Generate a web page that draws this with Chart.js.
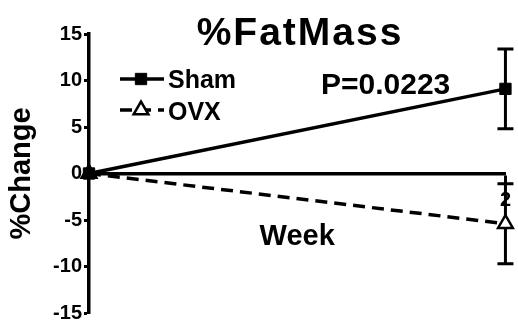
<!DOCTYPE html>
<html>
<head>
<meta charset="utf-8">
<script src="https://cdn.jsdelivr.net/npm/chart.js@4/dist/chart.umd.min.js"></script>
<style>
  html, body { margin: 0; padding: 0; background: #fff; }
  canvas { display: block; }
</style>
</head>
<body>
<canvas id="c" width="518" height="324"></canvas>
<script>
// Body fat mass, % change from baseline (mean ± SEM)
const weeks = [0, 2];
const shamMean = [0, 9.1];
const shamSem = [0, 4.3];
const ovxMean = [0, -5.4];
const ovxSem = [0, 4.3];
const yTickValues = [-15, -10, -5, 0, 5, 10, 15];
const xTickValues = [2];
const seriesNames = ['Sham', 'OVX'];
const chartTitle = '%FatMass';
const yTitle = '%Change';
const xTitle = 'Week';
const pValueText = 'P=0.0223';

const FONT = '"Liberation Sans", Arial, Helvetica, sans-serif';
const INK = '#000';

function toPoints(xs, ys) {
  return xs.map((x, i) => ({ x: x, y: ys[i] }));
}

// Vertical error bars with caps, drawn under the markers
const errorBars = {
  id: 'errorBars',
  beforeDatasetsDraw(chart) {
    const { ctx, scales: { x, y } } = chart;
    const sets = [
      { mean: shamMean, sem: shamSem },
      { mean: ovxMean, sem: ovxSem }
    ];
    ctx.save();
    ctx.strokeStyle = INK;
    ctx.lineWidth = 3;
    ctx.setLineDash([]);
    const cap = 8;
    sets.forEach(s => {
      weeks.forEach((w, i) => {
        if (!s.sem[i]) return;
        const px = x.getPixelForValue(w);
        const top = y.getPixelForValue(s.mean[i] + s.sem[i]);
        const bot = y.getPixelForValue(s.mean[i] - s.sem[i]);
        ctx.beginPath();
        ctx.moveTo(px, top); ctx.lineTo(px, bot);
        ctx.moveTo(px - cap, top); ctx.lineTo(px + cap, top);
        ctx.moveTo(px - cap, bot); ctx.lineTo(px + cap, bot);
        ctx.stroke();
      });
    });
    ctx.restore();
  }
};

// Title, axis label, legend and annotation text
const annotations = {
  id: 'annotations',
  afterDraw(chart) {
    const { ctx, chartArea } = chart;
    ctx.save();
    ctx.fillStyle = INK;
    ctx.textBaseline = 'alphabetic';

    // chart title
    ctx.font = `bold 39px ${FONT}`;
    ctx.textAlign = 'center';
    ctx.letterSpacing = '2px';
    ctx.fillText(chartTitle, 300, 45);
    ctx.letterSpacing = '0px';

    // x axis label
    ctx.font = `bold 29px ${FONT}`;
    ctx.fillText(xTitle, (chartArea.left + chartArea.right) / 2, 245);

    // p-value
    ctx.textAlign = 'left';
    ctx.font = `bold 30px ${FONT}`;
    ctx.fillText(pValueText, 321, 94);

    // legend
    const ds = chart.data.datasets;
    const rows = [79, 110];
    const baselines = [88, 120];
    ds.forEach((d, i) => {
      const yy = rows[i];
      ctx.save();
      ctx.strokeStyle = d.borderColor;
      ctx.lineWidth = d.borderWidth;
      ctx.setLineDash(d.borderDash || []);
      ctx.beginPath();
      ctx.moveTo(120, yy);
      ctx.lineTo(164, yy);
      ctx.stroke();
      ctx.setLineDash([]);
      ctx.fillStyle = d.pointBackgroundColor;
      ctx.strokeStyle = d.pointBorderColor;
      ctx.lineWidth = d.pointBorderWidth;
      Chart.helpers.drawPoint(ctx, {
        pointStyle: d.pointStyle,
        radius: d.pointRadius,
        borderWidth: d.pointBorderWidth
      }, 141, yy);
      ctx.restore();

      ctx.fillStyle = INK;
      ctx.font = `bold 25px ${FONT}`;
      ctx.fillText(d.label, 168, baselines[i]);
    });
    ctx.restore();
  }
};

new Chart(document.getElementById('c'), {
  type: 'line',
  data: {
    datasets: [
      {
        label: seriesNames[0],
        data: toPoints(weeks, shamMean),
        borderColor: INK,
        borderWidth: 3.5,
        pointStyle: 'rect',
        pointRadius: 8,
        pointBorderWidth: 1,
        pointBackgroundColor: INK,
        pointBorderColor: INK,
        clip: false
      },
      {
        label: seriesNames[1],
        data: toPoints(weeks, ovxMean),
        borderColor: INK,
        borderWidth: 3.5,
        borderDash: [12, 7],
        pointStyle: 'triangle',
        pointRadius: 8.5,
        pointBorderWidth: 2.5,
        pointBackgroundColor: '#fff',
        pointBorderColor: INK,
        clip: false
      }
    ]
  },
  options: {
    responsive: false,
    animation: false,
    devicePixelRatio: 1,
    layout: { padding: { left: 0, top: 34, right: 10, bottom: 9 } },
    plugins: {
      legend: { display: false },
      title: { display: false },
      tooltip: { enabled: false }
    },
    elements: { line: { tension: 0 } },
    scales: {
      x: {
        type: 'linear',
        min: 0,
        max: 2,
        position: { y: 0 },
        afterBuildTicks: s => { s.ticks = xTickValues.map(v => ({ value: v })); },
        grid: { drawOnChartArea: false, drawTicks: true, tickLength: 8, tickWidth: 3, tickColor: INK },
        border: { display: true, color: INK, width: 3.5 },
        ticks: {
          color: INK,
          padding: 7,
          maxRotation: 0,
          autoSkip: false,
          font: { family: FONT, size: 20, weight: 'bold' }
        }
      },
      y: {
        min: -15,
        max: 15,
        afterBuildTicks: s => { s.ticks = yTickValues.map(v => ({ value: v })); },
        afterFit: s => { s.width = 89; s.paddingTop = 0; s.paddingBottom = 0; },
        grid: { drawOnChartArea: false, drawTicks: true, tickLength: 5, tickWidth: 3, tickColor: INK },
        border: { display: true, color: INK, width: 3.5 },
        ticks: {
          color: INK,
          padding: 2,
          font: { family: FONT, size: 20, weight: 'bold' }
        },
        title: {
          display: true,
          text: yTitle,
          color: INK,
          padding: { top: 5, bottom: 0 },
          font: { family: FONT, size: 29, weight: 'bold' }
        }
      }
    }
  },
  plugins: [errorBars, annotations]
});
</script>
</body>
</html>
